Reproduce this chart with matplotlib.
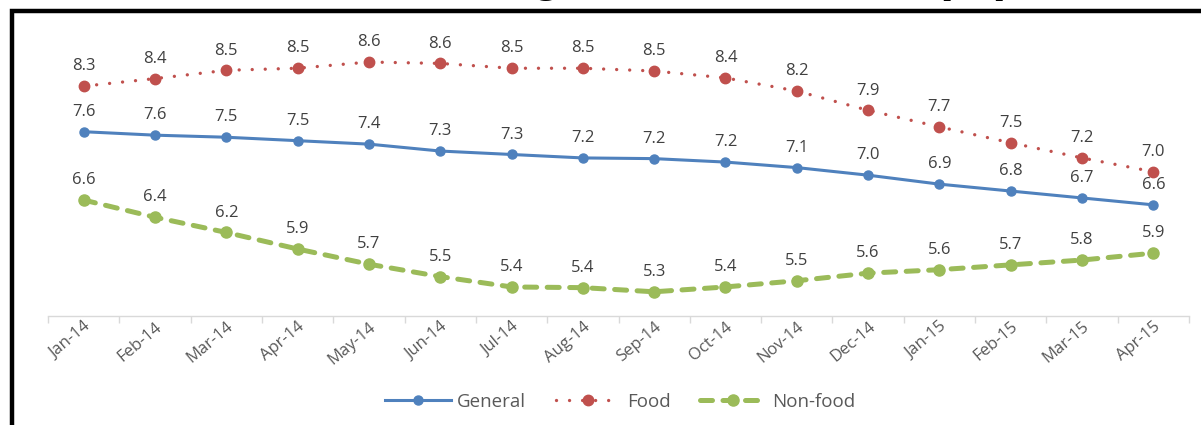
import matplotlib
matplotlib.use("Agg")
import matplotlib.pyplot as plt
from matplotlib.patches import Rectangle
from matplotlib.lines import Line2D

months = ["Jan-14", "Feb-14", "Mar-14", "Apr-14", "May-14", "Jun-14", "Jul-14", "Aug-14",
          "Sep-14", "Oct-14", "Nov-14", "Dec-14", "Jan-15", "Feb-15", "Mar-15", "Apr-15"]

general = [7.62, 7.57, 7.54, 7.49, 7.44, 7.34, 7.29, 7.24,
           7.23, 7.18, 7.10, 6.99, 6.86, 6.76, 6.66, 6.56]
food = [8.28, 8.39, 8.51, 8.54, 8.63, 8.61, 8.54, 8.54,
        8.50, 8.40, 8.21, 7.93, 7.69, 7.46, 7.24, 7.04]
non_food = [6.63, 6.38, 6.16, 5.92, 5.70, 5.52, 5.37, 5.36,
            5.30, 5.37, 5.46, 5.57, 5.62, 5.69, 5.76, 5.86]

series_names = ["General", "Food", "Non-food"]
title_text = "Average Inflation Rate (%)"

W, H = 1201, 425
fig = plt.figure(figsize=(W / 100, H / 100), dpi=100)
plt.rcParams["font.family"] = ["Open Sans", "DejaVu Sans"]

# plot area in pixel terms
left_px, right_px = 48, 1189
axis_y_px, top_y_px = 316, 36.5
ax = fig.add_axes([left_px / W, 1 - axis_y_px / H,
                   (right_px - left_px) / W, (axis_y_px - top_y_px) / H])

x = list(range(len(months)))
blue, red, green = "#4f81bd", "#c0504d", "#9bbb59"
food_ls = (0, (0.01, 3.9))
nonfood_ls = (0, (2.4, 2.1))

ax.plot(x, general, color=blue, lw=2.2, marker="o", ms=6.5, mec=blue, mfc=blue,
        label=series_names[0], zorder=3)
ax.plot(x, food, color=red, lw=2.4, ls=food_ls, dash_capstyle="round",
        marker="o", ms=7.5, mec=red, mfc=red, label=series_names[1], zorder=3)
ax.plot(x, non_food, color=green, lw=3.6, ls=nonfood_ls, dash_capstyle="round",
        marker="o", ms=8, mec=green, mfc=green, label=series_names[2], zorder=3)

label_color = "#404040"
for series in (general, food, non_food):
    for xi, v in zip(x, series):
        ax.annotate(f"{v:.1f}", (xi, v), xytext=(0, 8.5), textcoords="offset points",
                    ha="center", va="bottom", fontsize=12, color=label_color)

ax.set_xlim(-0.5, len(months) - 0.5)
ax.set_ylim(4.949, 9.0)
for s in ("left", "right", "top"):
    ax.spines[s].set_visible(False)
ax.spines["bottom"].set_color("#d9d9d9")
ax.spines["bottom"].set_linewidth(1.0)
ax.set_yticks([])

# boundary ticks between categories, labels at category centres
ax.set_xticks([i - 0.5 for i in range(len(months) + 1)])
ax.set_xticklabels([])
ax.tick_params(axis="x", which="major", length=5, width=1.0, color="#d9d9d9")
ax.set_xticks(x, minor=True)
ax.set_xticklabels(months, minor=True, rotation=40, ha="right", va="top",
                   rotation_mode="anchor", fontsize=12, color="#595959")
ax.tick_params(axis="x", which="minor", length=0, pad=2)

# legend below the axis
handles = [
    Line2D([], [], color=blue, lw=2.2, marker="o", ms=6.5),
    Line2D([], [], color=red, lw=2.4, ls=food_ls, dash_capstyle="round",
           marker="o", ms=7.5),
    Line2D([], [], color=green, lw=3.6, ls=nonfood_ls, dash_capstyle="round",
           marker="o", ms=8),
]
leg = fig.legend(handles, series_names, loc="center", ncol=3, frameon=False,
                 bbox_to_anchor=(620 / W, 1 - 402 / H), fontsize=13.5,
                 handlelength=3.5, handletextpad=0.3, columnspacing=1.6, numpoints=1)
for t in leg.get_texts():
    t.set_color("#595959")

# frame around the chart, running off the right and bottom edges
fig.patches.append(Rectangle((12 / W, -0.1), 1.2, 1 - 11 / H + 0.1,
                             transform=fig.transFigure, fill=False,
                             edgecolor="black", lw=3.2, zorder=10))

# heading sitting above the frame
fig.text(1012 / W, 1 + 9 / H, title_text, ha="right", va="baseline",
         fontsize=36, fontweight="bold", family="Liberation Sans", color="black")

fig.savefig("out.png", dpi=100)
